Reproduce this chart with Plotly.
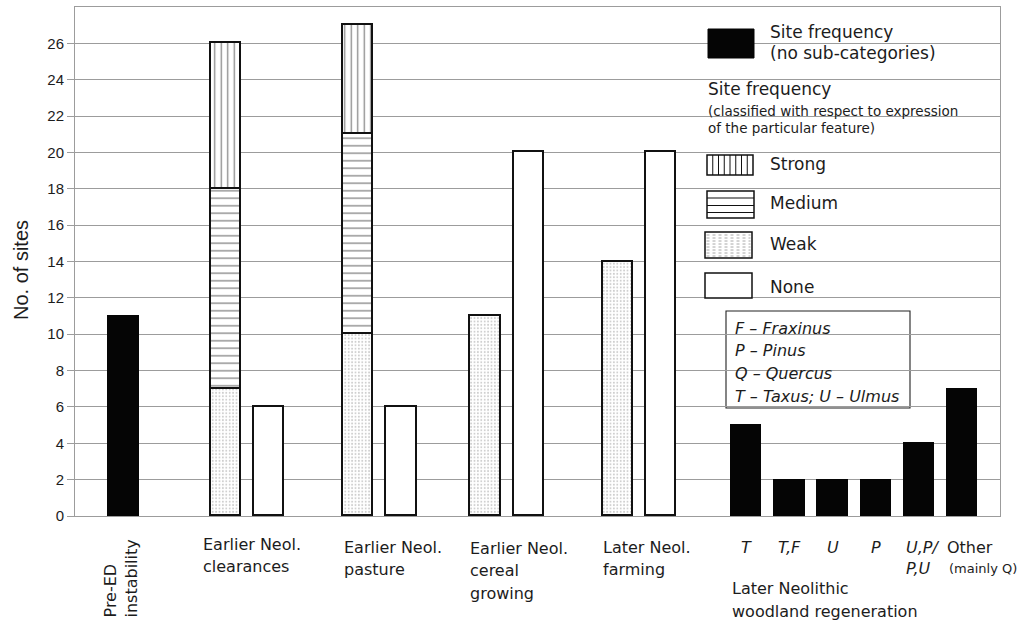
import plotly.graph_objects as go

# ---------------------------------------------------------------- data
pre_ed_label = ["Pre-ED", "instability"]
pre_ed_sites = [11]

activity_labels = [
    ["Earlier Neol.", "clearances"],
    ["Earlier Neol.", "pasture"],
    ["Earlier Neol.", "cereal", "growing"],
    ["Later Neol.", "farming"],
]
weak_sites = [7, 10, 11, 14]
medium_sites = [11, 11, 0, 0]
strong_sites = [8, 6, 0, 0]
none_sites = [6, 6, 20, 20]

taxa_labels = [["T"], ["T,F"], ["U"], ["P"], ["U,P/", "P,U"], ["Other"]]
other_note = "(mainly Q)"
regeneration_sites = [5, 2, 2, 2, 4, 7]
regeneration_title = ["Later Neolithic", "woodland regeneration"]

taxa_key = ["F – Fraxinus", "P – Pinus", "Q – Quercus", "T – Taxus; U – Ulmus"]

legend_plain = ["Site frequency", "(no sub-categories)"]
legend_class_title = "Site frequency"
legend_class_note = ["(classified with respect to expression",
                     "of the particular feature)"]
legend_classes = ["Strong", "Medium", "Weak", "None"]

y_ticks = list(range(0, 27, 2))

# ---------------------------------------------------------------- layout helpers
W, H = 1020, 623
ML, MR, MT, MB = 75, 20, 7, 107
PW, PH = W - ML - MR, H - MT - MB

SANS = "DejaVu Sans"
ARIAL = "Liberation Sans"
INK = "#1c1c1c"
GRID = "#9c9c9c"


def fx(p):
    return (p - ML) / PW


def fy(p):
    return (H - MB - p) / PH


# slot positions along the x axis (one slot pair per activity group)
BAR_W = 1.4
group_start = [4.75, 10.9, 16.8, 22.95]
woodland_start = 28.9
pre_x = [0.0]
feat_x = group_start[:len(weak_sites)]
none_x = [x + 2 for x in feat_x]
taxa_x = [woodland_start + 2 * i for i in range(len(regeneration_sites))]


def nz(values):
    return [v if v else None for v in values]


outline = dict(color="#111111", width=1.6)

fig = go.Figure()
fig.add_bar(x=pre_x, y=pre_ed_sites, width=BAR_W, name="Site frequency",
            marker=dict(color="#050505", line=dict(color="#050505", width=1)))
fig.add_bar(x=feat_x, y=nz(weak_sites), width=BAR_W, name="Weak",
            marker=dict(color="white", line=outline,
                        pattern=dict(shape=".", fgcolor="#9a9a9a", bgcolor="white",
                                     size=3.4, solidity=0.25)))
fig.add_bar(x=feat_x, y=nz(medium_sites), width=BAR_W, name="Medium",
            marker=dict(color="white", line=outline,
                        pattern=dict(shape="-", fgcolor="#111111", bgcolor="white",
                                     size=7.5, solidity=0.18)))
fig.add_bar(x=feat_x, y=nz(strong_sites), width=BAR_W, name="Strong",
            marker=dict(color="white", line=outline,
                        pattern=dict(shape="|", fgcolor="#111111", bgcolor="white",
                                     size=6.5, solidity=0.2)))
fig.add_bar(x=none_x, y=none_sites, width=BAR_W, name="None",
            marker=dict(color="white", line=outline))
fig.add_bar(x=taxa_x, y=regeneration_sites, width=BAR_W, name="Woodland regeneration",
            marker=dict(color="#050505", line=dict(color="#050505", width=1)))


def text_at(text, x, y, size, xref="paper", xanchor="left", italic=False,
            xshift=0, family=SANS, angle=0, align="left"):
    fig.add_annotation(
        text=f"<i>{text}</i>" if italic else text,
        x=x, xref=xref, y=y, yref="paper",
        xanchor=xanchor, yanchor="middle", xshift=xshift,
        textangle=angle, align=align, showarrow=False,
        font=dict(family=family, size=size, color=INK),
    )


def text_lines(lines, x, y0, step, size, **kw):
    for i, line in enumerate(lines):
        text_at(line, x, fy(y0 + i * step), size, **kw)


# category labels under the axis
text_at("<br>".join(pre_ed_label), pre_x[0], fy(578), 16, xref="x",
        xanchor="center", xshift=-2, angle=-90, align="left")

label_shift = [-10, -1, -2, -2]
label_top = [544, 547, 548, 547]
for lines, x, sh, top in zip(activity_labels, feat_x, label_shift, label_top):
    text_lines(lines, x - BAR_W / 2, top, 22.5, 16, xref="x", xshift=sh)

for lines, x in zip(taxa_labels, taxa_x):
    if len(lines) == 1 and lines[0] != "Other":
        text_lines(lines, x, 547, 21, 16, xref="x", xanchor="center", italic=True)
    elif lines[0] == "Other":
        text_lines(lines, x - BAR_W / 2, 547, 21, 16, xref="x", xshift=-2)
        text_lines([other_note], x - BAR_W / 2, 568, 21, 13, xref="x")
    else:
        text_lines(lines, x - BAR_W / 2, 547, 21, 16, xref="x", italic=True)

text_lines(regeneration_title, taxa_x[0] - BAR_W / 2, 588, 23, 16, xref="x", xshift=-1)

# y-axis title
text_at("No. of sites", fx(21), fy(270), 20, xanchor="center", family=ARIAL, angle=-90)

# ---------------------------------------------------------------- legend panel
shapes = []


def rect(x0, y0, x1, y1, fill="white", line_color="#111111", lw=1.5, layer="above"):
    shapes.append(dict(type="rect", xref="paper", yref="paper",
                       x0=fx(x0), x1=fx(x1), y0=fy(y1), y1=fy(y0),
                       fillcolor=fill, layer=layer,
                       line=dict(color=line_color, width=lw)))


def seg(x0, y0, x1, y1, color="#111111", lw=1, dash="solid"):
    shapes.append(dict(type="line", xref="paper", yref="paper",
                       x0=fx(x0), x1=fx(x1), y0=fy(y0), y1=fy(y1), layer="above",
                       line=dict(color=color, width=lw, dash=dash)))


# white panel hiding the grid behind the key
rect(693, 7.5, 999.5, 306, line_color="white", lw=0, layer="between")
# species key box
rect(726, 311, 910, 408, line_color="#222222", lw=1.1, layer="between")

# solid swatch
rect(708, 29, 754, 58, fill="#050505", line_color="#050505", lw=1)
text_lines(legend_plain, fx(768), 32, 21, 17)

text_at(legend_class_title, fx(706), fy(89), 17)
text_lines(legend_class_note, fx(706), 111, 17, 13.5)

# strong: vertical hatching
rect(707, 155, 753, 175)
xs = 707 + 5.75
while xs < 752:
    seg(xs, 155, xs, 175, lw=1)
    xs += 5.75
# medium: horizontal hatching
rect(707, 191, 754, 218)
for yy in (198, 205.5, 212.5):
    seg(707, yy, 754, yy, lw=1.2)
# weak: stippled rows
rect(705, 232, 752, 258)
yy = 235
while yy < 257:
    seg(706.5, yy, 750.5, yy, color="#a8a8a8", lw=1, dash="dot")
    yy += 3
# none: empty box
rect(705, 273, 752, 298)

for name, yc in zip(legend_classes, [164, 203, 244, 287]):
    text_at(name, fx(768), fy(yc), 17)

text_lines(taxa_key, fx(733), 328, 22.8, 16, italic=True)

fig.update_layout(
    width=W, height=H,
    margin=dict(l=ML, r=MR, t=MT, b=MB, pad=0),
    paper_bgcolor="white", plot_bgcolor="white",
    barmode="stack", bargap=0, showlegend=False,
    shapes=shapes,
    xaxis=dict(range=[-2.25, 40.67], showticklabels=False, ticks="",
               showgrid=False, zeroline=False,
               showline=True, mirror=True, linecolor=GRID, linewidth=1),
    yaxis=dict(range=[0, 28], tickvals=y_ticks, ticks="outside", ticklen=7,
               tickcolor=GRID, tickwidth=1,
               tickfont=dict(family=ARIAL, size=15, color=INK),
               showgrid=True, gridcolor=GRID, gridwidth=1, zeroline=False,
               showline=True, mirror=True, linecolor=GRID, linewidth=1),
)

fig.write_html("out.html")
